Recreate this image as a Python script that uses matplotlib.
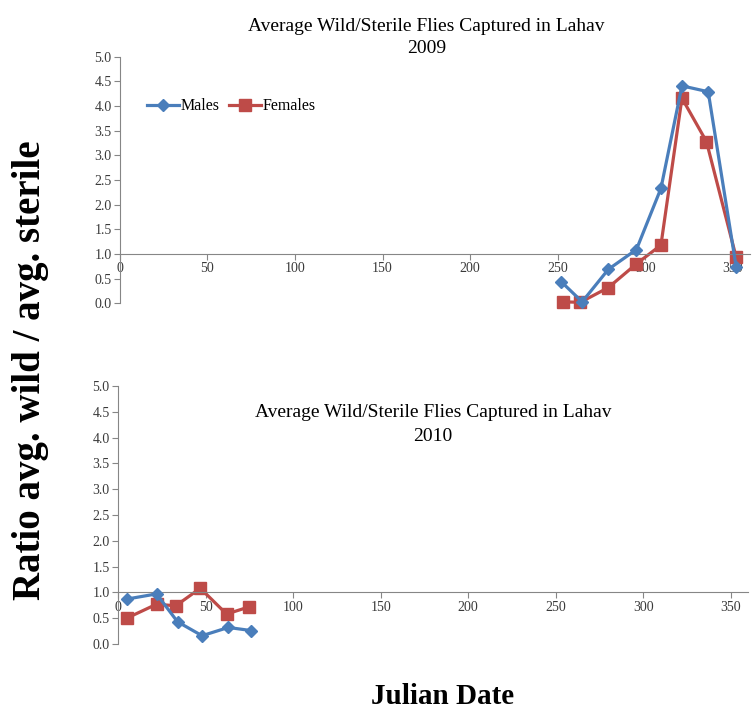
import matplotlib
matplotlib.use('Agg')
import matplotlib.pyplot as plt
import numpy as np

plt.rcParams['font.family'] = ['Liberation Serif', 'DejaVu Serif']

# Datos 2009
dias_2009_m = [252, 264, 279, 295, 309, 321, 336, 352]
machos_2009 = [0.44, 0.03, 0.69, 1.09, 2.33, 4.41, 4.29, 0.73]
dias_2009_h = [253, 263, 279, 295, 309, 321, 335, 352]
hembras_2009 = [0.03, 0.02, 0.32, 0.80, 1.18, 4.16, 3.28, 0.93]

# Datos 2010
dias_2010_m = [5, 22, 34, 48, 63, 76]
machos_2010 = [0.87, 0.97, 0.43, 0.16, 0.32, 0.26]
dias_2010_h = [5, 22, 33, 47, 62, 75]
hembras_2010 = [0.50, 0.77, 0.74, 1.08, 0.58, 0.72]

titulos = ['Average Wild/Sterile Flies Captured in Lahav\n2009',
           'Average Wild/Sterile Flies Captured in Lahav\n2010']
xticks = [0, 50, 100, 150, 200, 250, 300, 350]
yticks = np.arange(0, 5.01, 0.5)

azul = '#4A7EBB'
rojo = '#BE4B48'
gris = '#868686'

fig = plt.figure(figsize=(7.54, 7.10), dpi=100)
ax1 = fig.add_axes([0.159, 0.5728, 0.836, 0.3473])
ax2 = fig.add_axes([0.1565, 0.093, 0.836, 0.3634])


def estilo(ax):
    ax.set_xlim(0, 360)
    ax.set_ylim(0, 5)
    ax.spines['top'].set_visible(False)
    ax.spines['right'].set_visible(False)
    ax.spines['bottom'].set_position(('data', 1.0))
    ax.spines['bottom'].set_color(gris)
    ax.spines['left'].set_color(gris)
    ax.set_xticks(xticks)
    ax.set_yticks(yticks)
    ax.set_yticklabels([f'{v:.1f}' for v in yticks])
    ax.tick_params(axis='both', colors=gris, labelcolor='#3a3a3a', labelsize=10,
                   length=4, direction='out', pad=2)
    ax.patch.set_alpha(0)


# 2009
ax1.plot(dias_2009_m, machos_2009, color=azul, marker='D', markersize=6,
         linewidth=2.3, label='Males', clip_on=False, zorder=3)
ax1.plot(dias_2009_h, hembras_2009, color=rojo, marker='s', markersize=8.5,
         linewidth=2.3, label='Females', clip_on=False, zorder=2)
estilo(ax1)
ax1.set_title(titulos[0], fontsize=14, pad=-1, linespacing=1.4, x=0.486)
ax1.legend(loc='upper left', bbox_to_anchor=(0.02, 0.89), ncol=2, frameon=False,
           fontsize=11.5, handlelength=2.0, handletextpad=0.1, columnspacing=0.6)

# 2010
ax2.plot(dias_2010_m, machos_2010, color=azul, marker='D', markersize=6,
         linewidth=2.3, clip_on=False, zorder=3)
ax2.plot(dias_2010_h, hembras_2010, color=rojo, marker='s', markersize=8.5,
         linewidth=2.3, clip_on=False, zorder=2)
estilo(ax2)
ax2.text(0.5, 0.85, titulos[1], transform=ax2.transAxes, ha='center',
         va='center', fontsize=14, linespacing=1.5)

fig.text(0.04, 0.479, 'Ratio avg. wild / avg. sterile', rotation=90,
         ha='center', va='center', fontsize=28, fontweight='bold')
fig.text(0.587, 0.019, 'Julian Date', ha='center', va='center',
         fontsize=21, fontweight='bold')

plt.savefig('out.png', dpi=100)
